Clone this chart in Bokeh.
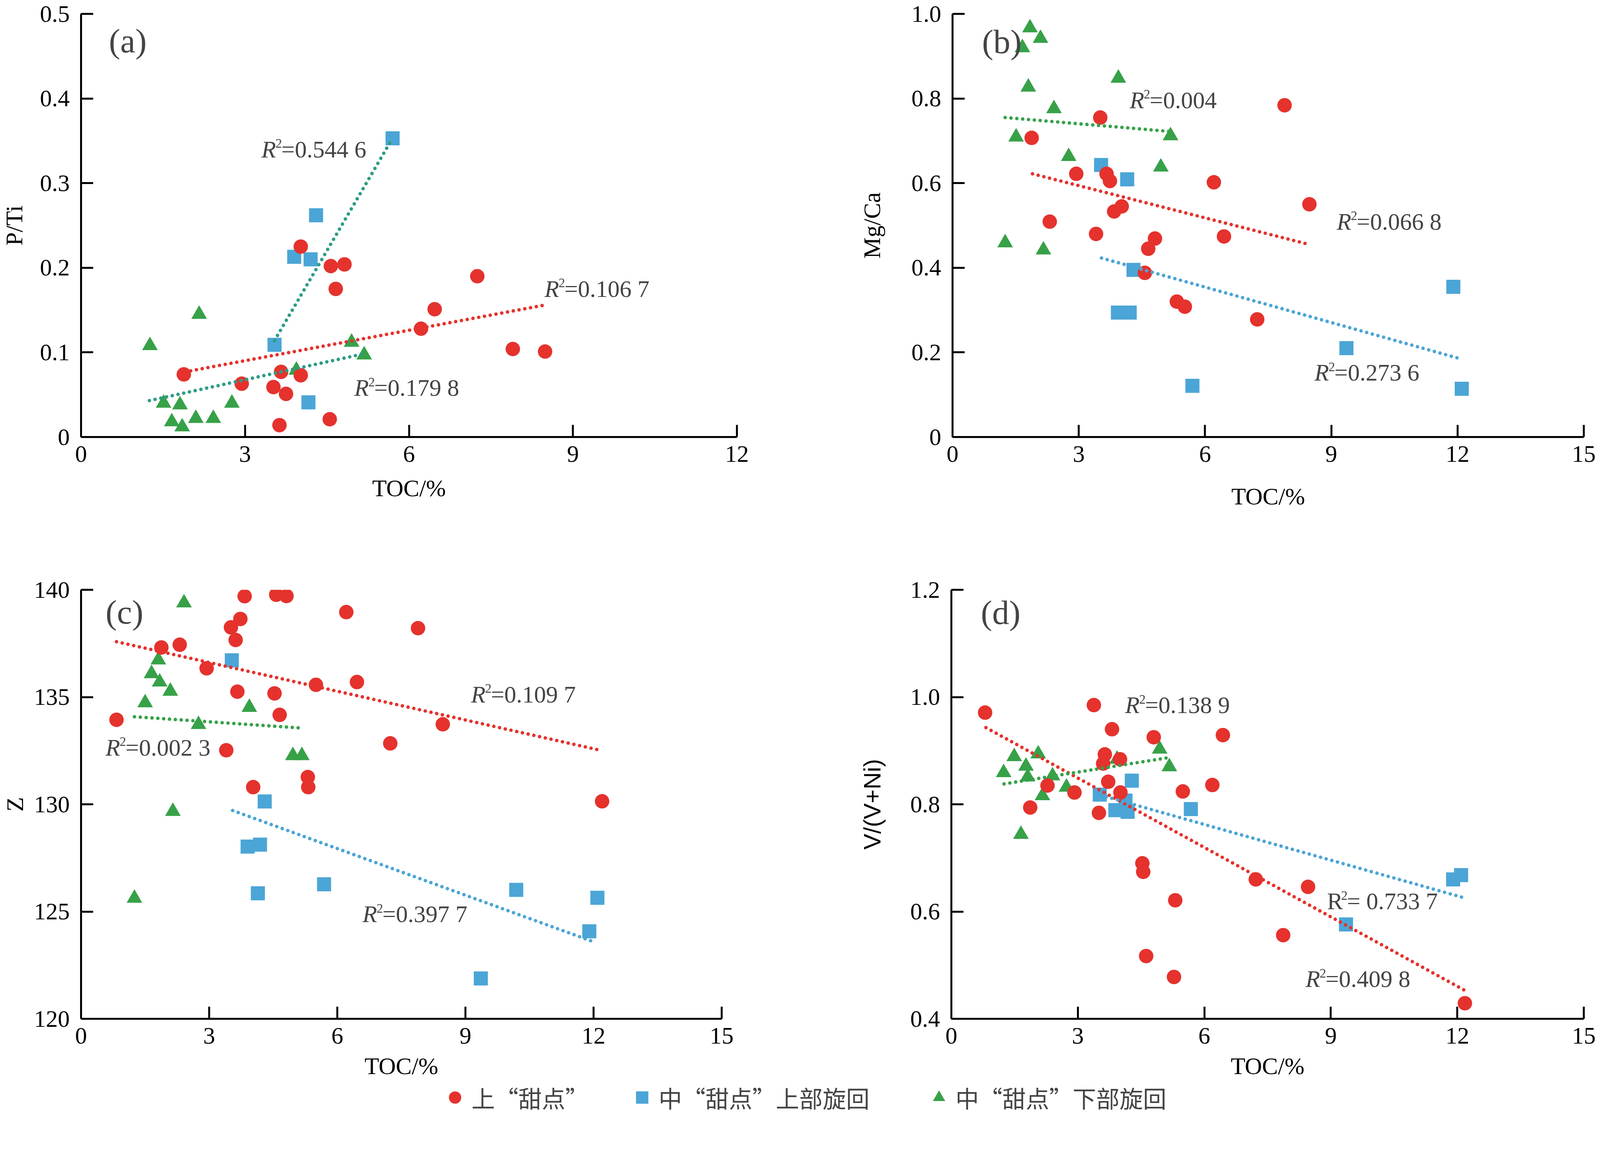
from bokeh.plotting import figure
from bokeh.models import FixedTicker, Label, Legend, LegendItem
from bokeh.layouts import column, row
from bokeh.embed import file_html
from bokeh.resources import INLINE

RED = "#e5322d"
BLUE = "#4ba5d6"
GREEN = "#37a148"
TEAL = "#2e9c86"

# ---------------- data ----------------
# (a) P/Ti vs TOC
a_red_x = [1.88, 2.94, 4.02, 4.57, 4.82, 4.66, 7.25, 6.47, 6.22, 7.90, 8.49, 3.66, 4.02, 3.52, 3.75, 3.63, 4.55]
a_red_y = [0.074, 0.063, 0.225, 0.202, 0.204, 0.175, 0.190, 0.151, 0.128, 0.104, 0.101, 0.077, 0.073, 0.059, 0.051, 0.014, 0.021]
a_blue_x = [5.70, 4.30, 3.90, 4.20, 3.54, 4.16]
a_blue_y = [0.353, 0.262, 0.213, 0.210, 0.109, 0.041]
a_green_x = [1.26, 2.16, 1.51, 1.81, 1.66, 1.85, 2.10, 2.42, 2.76, 3.94, 4.95, 5.18]
a_green_y = [0.108, 0.145, 0.040, 0.038, 0.018, 0.012, 0.022, 0.022, 0.040, 0.079, 0.112, 0.097]
a_fit_red_x, a_fit_red_y = [1.9, 8.49], [0.077, 0.156]
a_fit_blue_x, a_fit_blue_y = [3.54, 5.68], [0.114, 0.351]
a_fit_green_x, a_fit_green_y = [1.25, 5.15], [0.043, 0.098]

# (b) Mg/Ca vs TOC
b_red_x = [1.88, 3.51, 2.94, 3.66, 3.74, 2.31, 3.41, 3.84, 4.02, 4.81, 4.65, 4.57, 5.33, 5.52, 6.21, 6.45, 7.89, 8.48, 7.24]
b_red_y = [0.707, 0.755, 0.622, 0.622, 0.605, 0.509, 0.480, 0.533, 0.545, 0.469, 0.445, 0.388, 0.320, 0.308, 0.602, 0.474, 0.784, 0.550, 0.278]
b_blue_x = [3.53, 4.15, 4.30, 3.93, 4.21, 11.90, 9.36, 5.70, 12.10]
b_blue_y = [0.643, 0.609, 0.395, 0.294, 0.294, 0.355, 0.210, 0.121, 0.114]
b_green_x = [1.84, 2.09, 1.66, 1.80, 3.94, 2.41, 1.51, 5.18, 2.76, 4.95, 1.25, 2.16]
b_green_y = [0.967, 0.942, 0.920, 0.827, 0.848, 0.776, 0.709, 0.712, 0.663, 0.638, 0.459, 0.442]
b_fit_red_x, b_fit_red_y = [1.9, 8.4], [0.622, 0.457]
b_fit_blue_x, b_fit_blue_y = [3.54, 12.1], [0.423, 0.184]
b_fit_green_x, b_fit_green_y = [1.25, 5.18], [0.755, 0.722]

# (c) Z vs TOC
c_red_x = [0.83, 1.88, 2.31, 2.94, 3.51, 3.73, 3.62, 3.83, 4.57, 4.81, 3.66, 4.53, 4.65, 5.50, 6.46, 6.21, 7.89, 8.47, 7.24, 3.40, 4.03, 5.31, 5.32, 12.20]
c_red_y = [133.94, 137.31, 137.44, 136.34, 138.25, 138.64, 137.66, 139.70, 139.77, 139.71, 135.25, 135.17, 134.17, 135.57, 135.70, 138.96, 138.21, 133.73, 132.84, 132.52, 130.80, 131.27, 130.80, 130.14]
c_blue_x = [3.53, 4.30, 3.90, 4.19, 4.14, 5.69, 10.19, 12.09, 11.90, 9.36]
c_blue_y = [136.71, 130.13, 128.03, 128.12, 125.85, 126.27, 126.01, 125.64, 124.08, 121.88]
c_green_x = [2.41, 1.81, 1.65, 1.84, 2.09, 1.50, 3.94, 2.75, 4.96, 5.17, 2.15, 1.25]
c_green_y = [139.39, 136.73, 136.09, 135.70, 135.27, 134.73, 134.52, 133.72, 132.27, 132.27, 129.67, 125.62]
c_fit_red_x, c_fit_red_y = [0.83, 12.2], [137.58, 132.50]
c_fit_blue_x, c_fit_blue_y = [3.55, 12.0], [129.71, 123.59]
c_fit_green_x, c_fit_green_y = [1.25, 5.2], [134.08, 133.55]

# (d) V/(V+Ni) vs TOC
d_red_x = [0.80, 3.38, 3.81, 4.80, 6.44, 3.64, 4.00, 3.60, 2.28, 3.72, 2.92, 4.01, 5.49, 6.19, 1.87, 3.50, 4.53, 4.55, 7.22, 8.46, 5.31, 7.87, 4.62, 5.28, 12.18]
d_red_y = [0.971, 0.985, 0.940, 0.925, 0.929, 0.893, 0.884, 0.876, 0.835, 0.842, 0.822, 0.822, 0.824, 0.836, 0.794, 0.784, 0.690, 0.674, 0.660, 0.646, 0.621, 0.556, 0.517, 0.478, 0.429]
d_blue_x = [3.52, 4.28, 4.13, 3.89, 4.18, 5.68, 11.90, 12.09, 9.36]
d_blue_y = [0.818, 0.844, 0.807, 0.789, 0.786, 0.791, 0.660, 0.668, 0.576]
d_green_x = [1.24, 1.49, 1.77, 1.81, 2.06, 2.16, 2.40, 2.73, 3.93, 4.94, 5.17, 1.65]
d_green_y = [0.859, 0.889, 0.871, 0.851, 0.894, 0.816, 0.853, 0.832, 0.884, 0.903, 0.870, 0.744]
d_fit_red_x, d_fit_red_y = [0.82, 12.2], [0.943, 0.452]
d_fit_blue_x, d_fit_blue_y = [3.54, 12.1], [0.817, 0.627]
d_fit_green_x, d_fit_green_y = [1.25, 5.15], [0.838, 0.887]

# tick values / labels
a_xticks = [0, 3, 6, 9, 12]
bcd_xticks = [0, 3, 6, 9, 12, 15]
a_yticks = [0, 0.1, 0.2, 0.3, 0.4, 0.5]
a_ylabels = ["0", "0.1", "0.2", "0.3", "0.4", "0.5"]
b_yticks = [0, 0.2, 0.4, 0.6, 0.8, 1.0]
b_ylabels = ["0", "0.2", "0.4", "0.6", "0.8", "1.0"]
c_yticks = [120, 125, 130, 135, 140]
c_ylabels = ["120", "125", "130", "135", "140"]
d_yticks = [0.4, 0.6, 0.8, 1.0, 1.2]
d_ylabels = ["0.4", "0.6", "0.8", "1.0", "1.2"]

legend_labels = ["上“甜点”", "中“甜点”上部旋回", "中“甜点”下部旋回"]

# R^2 annotations: (text after "R2", x, y, italic R)
a_r2 = [("=0.544 6", 3.30, 0.340, True), ("=0.106 7", 8.48, 0.175, True), ("=0.179 8", 5.00, 0.058, True)]
b_r2 = [("=0.004", 4.21, 0.796, True), ("=0.066 8", 9.13, 0.509, True), ("=0.273 6", 8.60, 0.152, True)]
c_r2 = [("=0.109 7", 9.13, 135.12, True), ("=0.002 3", 0.575, 132.65, True), ("=0.397 7", 6.59, 124.88, True)]
d_r2 = [("=0.138 9", 4.12, 0.985, True), ("= 0.733 7", 8.91, 0.619, False), ("=0.409 8", 8.40, 0.474, True)]

# ---------------- geometry / style ----------------
K = 0.964          # page is rendered slightly magnified; keep everything inside the window


def px(v):
    return int(round(v * K))


def fs(v):
    return f"{px(v)}px"


SERIF = "Liberation Serif"
FS = fs(63)


def style_axis(ax, label_standoff, axis_label_standoff, label_font=SERIF):
    ax.axis_line_width = px(5)
    ax.axis_line_color = "black"
    ax.major_tick_line_width = px(5)
    ax.major_tick_line_color = "black"
    ax.major_tick_in = px(32)
    ax.major_tick_out = 0
    ax.minor_tick_line_color = None
    ax.major_label_text_font = SERIF
    ax.major_label_text_font_size = FS
    ax.major_label_text_color = "black"
    ax.major_label_standoff = px(label_standoff)
    ax.axis_label_text_font = label_font
    ax.axis_label_text_font_size = FS
    ax.axis_label_text_font_style = "normal"
    ax.axis_label_text_color = "black"
    ax.axis_label_standoff = px(axis_label_standoff)


def make_panel(w, h, mbl, mbr, mbt, mbb, xr, yr, xticks, yticks, ylabels,
               ylab, ylab_font, ylab_standoff, xlab_standoff, tag, tag_xy,
               red, blue, green, fits, fit_cols, r2):
    p = figure(width=px(w), height=px(h), x_range=xr, y_range=yr,
               output_backend="svg", toolbar_location=None,
               min_border_left=px(mbl), min_border_right=px(mbr),
               min_border_top=px(mbt), min_border_bottom=px(mbb))
    p.outline_line_color = None
    p.grid.visible = False
    p.background_fill_color = "white"
    p.border_fill_color = "white"
    p.xaxis.axis_label = "TOC/%"
    p.yaxis.axis_label = ylab
    p.xaxis.ticker = FixedTicker(ticks=xticks)
    p.yaxis.ticker = FixedTicker(ticks=yticks)
    p.yaxis.major_label_overrides = {t: l for t, l in zip(yticks, ylabels)}
    style_axis(p.xaxis[0], 24, xlab_standoff)
    style_axis(p.yaxis[0], 30, ylab_standoff, ylab_font)

    p.scatter(blue[0], blue[1], marker="square", size=px(37), fill_color=BLUE, line_color=None)
    p.scatter(green[0], green[1], marker="triangle", size=px(42), fill_color=GREEN, line_color=None)
    p.scatter(red[0], red[1], marker="circle", size=px(38), fill_color=RED, line_color=None)

    for (fx, fy), col in zip(fits, fit_cols):
        p.line(fx, fy, line_color=col, line_width=px(9), line_dash=f"0 {px(16)}", line_cap="round")

    p.add_layout(Label(x=tag_xy[0], y=tag_xy[1], text=tag, text_font=SERIF,
                       text_font_size=fs(90), text_baseline="middle", text_align="left"))
    for txt, x, y, ital in r2:
        p.add_layout(Label(x=x, y=y, text="R", text_font=SERIF, text_font_size=FS,
                           text_font_style="italic" if ital else "normal",
                           text_baseline="middle", text_align="left"))
        p.add_layout(Label(x=x, y=y, text="2", text_font=SERIF, text_font_size=fs(34),
                           x_offset=px(37), y_offset=px(16),
                           text_baseline="middle", text_align="left"))
        p.add_layout(Label(x=x, y=y, text=txt, text_font=SERIF, text_font_size=FS,
                           x_offset=px(53), text_baseline="middle", text_align="left"))
    return p


W_LEFT, W_RIGHT = 2278, 1964
H_TOP, H_BOT, H_LEG = 1470, 1397, 94

pa = make_panel(W_LEFT, H_TOP, 215, 322, 36, 310, (0, 12), (0, 0.5), a_xticks, a_yticks, a_ylabels,
                "P/Ti", SERIF, 30, 32, "(a)", (0.51, 0.468),
                (a_red_x, a_red_y), (a_blue_x, a_blue_y), (a_green_x, a_green_y),
                [(a_fit_red_x, a_fit_red_y), (a_fit_blue_x, a_fit_blue_y), (a_fit_green_x, a_fit_green_y)],
                [RED, TEAL, TEAL], a_r2)
pb = make_panel(W_RIGHT, H_TOP, 246, 36, 36, 310, (0, 15), (0, 1.0), bcd_xticks, b_yticks, b_ylabels,
                "Mg/Ca", SERIF, 66, 54, "(b)", (0.70, 0.934),
                (b_red_x, b_red_y), (b_blue_x, b_blue_y), (b_green_x, b_green_y),
                [(b_fit_red_x, b_fit_red_y), (b_fit_blue_x, b_fit_blue_y), (b_fit_green_x, b_fit_green_y)],
                [RED, BLUE, GREEN], b_r2)
pc = make_panel(W_LEFT, H_BOT, 215, 362, 95, 158, (0, 15), (120, 140), bcd_xticks, c_yticks, c_ylabels,
                "Z", SERIF, 12, 22, "(c)", (0.575, 138.96),
                (c_red_x, c_red_y), (c_blue_x, c_blue_y), (c_green_x, c_green_y),
                [(c_fit_red_x, c_fit_red_y), (c_fit_blue_x, c_fit_blue_y), (c_fit_green_x, c_fit_green_y)],
                [RED, BLUE, GREEN], c_r2)
pd_ = make_panel(W_RIGHT, H_BOT, 246, 36, 95, 158, (0, 15), (0.4, 1.2), bcd_xticks, d_yticks, d_ylabels,
                 "V/(V+Ni)", "Liberation Sans", 62, 22, "(d)", (0.70, 1.158),
                 (d_red_x, d_red_y), (d_blue_x, d_blue_y), (d_green_x, d_green_y),
                 [(d_fit_red_x, d_fit_red_y), (d_fit_blue_x, d_fit_blue_y), (d_fit_green_x, d_fit_green_y)],
                 [RED, BLUE, GREEN], d_r2)

# legend strip: one legend per entry so each sits where the reference puts it
lg = figure(width=px(W_LEFT + W_RIGHT), height=px(H_LEG), x_range=(0, 1), y_range=(0, 1),
            output_backend="svg", toolbar_location=None, min_border=0)
lg.axis.visible = False
lg.grid.visible = False
lg.outline_line_color = None
legend_markers = ["circle", "square", "triangle"]
legend_colors = [RED, BLUE, GREEN]
legend_left = [1167, 1664, 2452]
for lab, mk, col, left in zip(legend_labels, legend_markers, legend_colors, legend_left):
    rr = lg.scatter([-5], [-5], marker=mk, size=30, fill_color=col, line_color=None)
    leg = Legend(items=[LegendItem(label=lab, renderers=[rr])],
                 orientation="horizontal", location=(px(left), px(3)),
                 label_text_font="Noto Sans CJK SC", label_text_font_size=fs(62),
                 glyph_width=px(82), glyph_height=px(84), label_standoff=px(3),
                 padding=0, margin=0, border_line_color=None, background_fill_alpha=0)
    lg.add_layout(leg)

layout = column(row(pa, pb), row(pc, pd_), lg)
open("out.html", "w").write(file_html(layout, INLINE))
